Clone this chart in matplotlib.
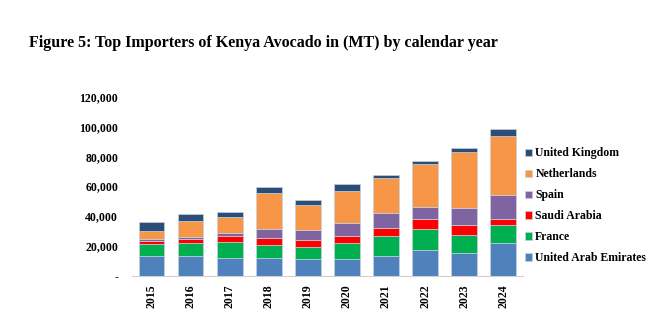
import matplotlib
matplotlib.use("Agg")
import matplotlib.pyplot as plt
import numpy as np
from matplotlib.ticker import FuncFormatter

years = ["2015", "2016", "2017", "2018", "2019", "2020", "2021", "2022", "2023", "2024"]

# volumes in metric tonnes, bottom of stack first
uae = [13100, 13300, 11800, 11800, 11300, 11100, 13300, 17100, 15500, 21800]
france = [8400, 8500, 10700, 8900, 7800, 10700, 13100, 14200, 12000, 12200]
saudi = [1800, 3100, 4400, 4900, 5100, 5100, 5700, 6500, 6700, 4200]
spain = [1100, 1300, 2000, 6000, 6500, 8700, 9800, 8000, 11300, 15600]
netherlands = [5500, 10500, 10700, 23800, 16700, 20900, 23300, 29100, 37300, 39500]
uk = [6200, 4700, 3100, 3800, 3300, 4700, 2000, 1800, 2900, 4500]

series = [
    ("United Arab Emirates", uae, "#4f81bd"),
    ("France", france, "#00b050"),
    ("Saudi Arabia", saudi, "#ff0000"),
    ("Spain", spain, "#8064a2"),
    ("Netherlands", netherlands, "#f79646"),
    ("United Kingdom", uk, "#2c4d75"),
]

plt.rcParams['font.family'] = ['Liberation Serif', 'DejaVu Serif']
plt.rcParams['font.weight'] = 'bold'

fig = plt.figure(figsize=(6.65, 3.24), dpi=100)
ax = fig.add_axes([0.1985, 0.148, 0.5875, 0.555])

x = np.arange(len(years))
bottom = np.zeros(len(years))
handles = []
for name, vals, col in series:
    b = ax.bar(x, vals, 0.66, bottom=bottom, color=col, edgecolor="#c8d0dc", linewidth=0.5, label=name)
    handles.append(b)
    bottom += np.array(vals)

ax.set_xlim(-0.5, len(years) - 0.5)
ax.set_ylim(0, 120000)
ax.set_yticks(range(0, 120001, 20000))
ax.yaxis.set_major_formatter(FuncFormatter(lambda v, p: "-" if v == 0 else f"{int(v):,}"))
ax.set_xticks(x)
ax.set_xticklabels(years, rotation=90)
ax.tick_params(axis="both", length=0, labelsize=8.5)
ax.tick_params(axis="y", pad=10)
ax.tick_params(axis="x", pad=6)
for s in ["top", "right", "left"]:
    ax.spines[s].set_visible(False)
ax.spines["bottom"].set_color("#d0d0d0")

leg = ax.legend(handles[::-1], [s[0] for s in series][::-1], loc="center left",
                bbox_to_anchor=(1.005, 0.39), frameon=False, fontsize=8.5,
                handlelength=0.6, handleheight=0.6, handletextpad=0.3,
                labelspacing=0.76, borderaxespad=0, borderpad=0)

fig.text(0.044, 0.855, "Figure 5: Top Importers of Kenya Avocado in (MT) by calendar year",
         fontsize=11.5, fontweight="bold")

fig.savefig("out.png", dpi=100)
